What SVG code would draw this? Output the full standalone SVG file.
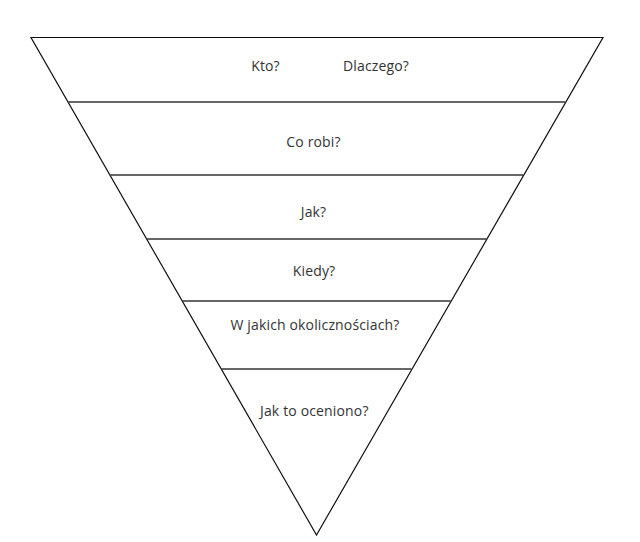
<svg xmlns="http://www.w3.org/2000/svg" width="640" height="542" viewBox="0 0 640 542">
<style>
.edge{fill:none;stroke:#111;stroke-width:1.2}
.sep{stroke:#333;stroke-width:1.3}
.lbl{font-family:"Open Sans","Noto Sans","Liberation Sans",sans-serif;font-size:14px;letter-spacing:0.15px;fill:#333;text-anchor:middle}
</style>
<rect width="640" height="542" fill="#fff"/>
<g id="connectors">
<polygon class="edge" points="31,37.5 603,37.5 316.5,535"/>
<line class="sep" x1="68.3" y1="102" x2="565.2" y2="102"/>
<line class="sep" x1="110.3" y1="175" x2="523.2" y2="175"/>
<line class="sep" x1="146.6" y1="239" x2="486.5" y2="239"/>
<line class="sep" x1="182.4" y1="301" x2="450.6" y2="301"/>
<line class="sep" x1="221.3" y1="369" x2="411.4" y2="369"/>
</g>
<g id="n1"><text class="lbl" x="265.5" y="71">Kto?</text><text class="lbl" x="376" y="71">Dlaczego?</text></g>
<g id="n2"><text class="lbl" x="313.5" y="147">Co robi?</text></g>
<g id="n3"><text class="lbl" x="313.5" y="216.5">Jak?</text></g>
<g id="n4"><text class="lbl" x="314" y="276">Kiedy?</text></g>
<g id="n5"><text class="lbl" x="315" y="330">W jakich okoliczno&#347;ciach?</text></g>
<g id="n6"><text class="lbl" x="314.3" y="416">Jak to oceniono?</text></g>
</svg>
